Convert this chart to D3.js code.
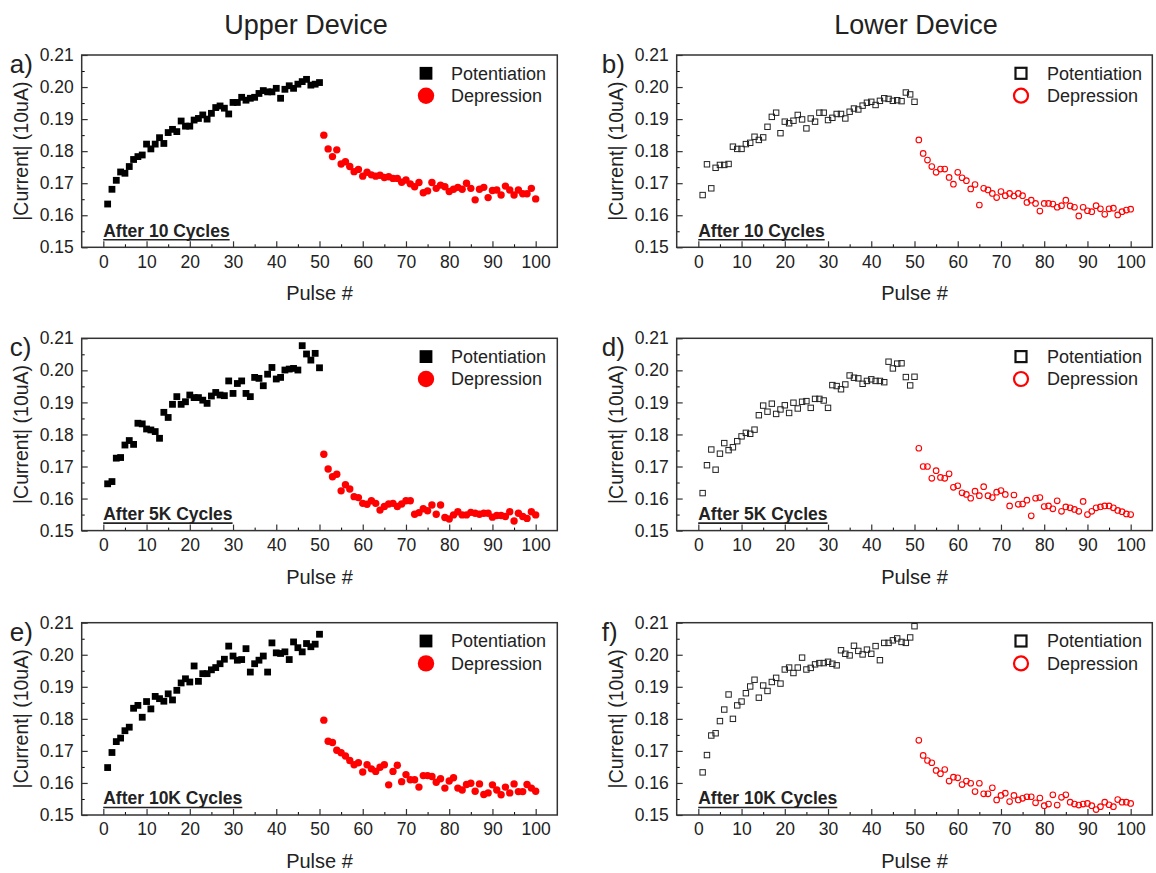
<!DOCTYPE html>
<html>
<head>
<meta charset="utf-8">
<script src="https://cdn.jsdelivr.net/npm/d3@7"></script>
<style>
  body { margin: 0; background: #fff; }
  text { font-family: "Liberation Sans", Arial, sans-serif; fill: #222; }
</style>
</head>
<body>
<script>
// pulse 1..50 = potentiation, 51..100 = depression
var aPot = [0.1635,0.1681,0.1709,0.1735,0.1731,0.1752,0.1774,0.1783,0.1788,0.1822,
            0.1807,0.1822,0.1842,0.1824,0.1858,0.1868,0.1861,0.1894,0.1878,0.1878,
            0.1897,0.1902,0.1913,0.1900,0.1918,0.1936,0.1941,0.1934,0.1916,0.1952,
            0.1952,0.1968,0.1959,0.1965,0.1968,0.1980,0.1989,0.1985,0.1985,0.1996,
            0.1965,0.1993,0.2004,0.1996,0.2009,0.2017,0.2024,0.2006,0.2009,0.2014];
var aDep = [0.1850,0.1807,0.1783,0.1804,0.1760,0.1767,0.1752,0.1736,0.1743,0.1722,
            0.1734,0.1726,0.1722,0.1725,0.1718,0.1720,0.1715,0.1715,0.1703,0.1710,
            0.1698,0.1689,0.1702,0.1670,0.1676,0.1702,0.1684,0.1694,0.1689,0.1674,
            0.1681,0.1687,0.1681,0.1700,0.1684,0.1648,0.1681,0.1687,0.1655,0.1677,
            0.1679,0.1663,0.1691,0.1679,0.1663,0.1679,0.1667,0.1667,0.1684,0.1651];

var bPot = [0.1663,0.1759,0.1684,0.1748,0.1757,0.1757,0.1760,0.1814,0.1807,0.1807,
            0.1822,0.1826,0.1845,0.1835,0.1843,0.1876,0.1907,0.1920,0.1856,0.1892,
            0.1887,0.1895,0.1913,0.1899,0.1871,0.1902,0.1892,0.1920,0.1920,0.1897,
            0.1904,0.1916,0.1916,0.1902,0.1923,0.1933,0.1930,0.1942,0.1951,0.1954,
            0.1944,0.1957,0.1965,0.1963,0.1957,0.1959,0.1956,0.1983,0.1977,0.1954];
var bDep = [0.1835,0.1793,0.1772,0.1752,0.1734,0.1744,0.1744,0.1718,0.1697,0.1734,
            0.1717,0.1708,0.1682,0.1696,0.1632,0.1684,0.1679,0.1668,0.1655,0.1674,
            0.1661,0.1668,0.1660,0.1668,0.1661,0.1640,0.1647,0.1637,0.1613,0.1637,
            0.1637,0.1635,0.1625,0.1630,0.1647,0.1629,0.1625,0.1598,0.1625,0.1614,
            0.1611,0.1630,0.1620,0.1603,0.1620,0.1622,0.1601,0.1611,0.1616,0.1619];

var cPot = [0.1646,0.1653,0.1726,0.1728,0.1767,0.1781,0.1769,0.1835,0.1833,0.1817,
            0.1814,0.1809,0.1788,0.1869,0.1853,0.1894,0.1918,0.1894,0.1902,0.1923,
            0.1915,0.1915,0.1907,0.1897,0.1920,0.1931,0.1923,0.1921,0.1967,0.1928,
            0.1959,0.1967,0.1928,0.1918,0.1978,0.1975,0.1952,0.1988,0.2009,0.1973,
            0.1978,0.2001,0.2004,0.2006,0.2001,0.2077,0.2051,0.2032,0.2053,0.2008];
var cDep = [0.1738,0.1692,0.1668,0.1676,0.1624,0.1643,0.1630,0.1606,0.1603,0.1585,
            0.1582,0.1593,0.1585,0.1564,0.1575,0.1583,0.1585,0.1575,0.1583,0.1593,
            0.1593,0.1551,0.1556,0.1568,0.1562,0.1580,0.1551,0.1580,0.1541,0.1536,
            0.1549,0.1559,0.1549,0.1549,0.1557,0.1554,0.1551,0.1554,0.1554,0.1542,
            0.1547,0.1547,0.1544,0.1559,0.1530,0.1554,0.1544,0.1538,0.1559,0.1549];

var dPot = [0.1617,0.1704,0.1753,0.1690,0.1740,0.1773,0.1751,0.1760,0.1779,0.1794,
            0.1805,0.1802,0.1815,0.1860,0.1890,0.1871,0.1896,0.1864,0.1878,0.1891,
            0.1867,0.1899,0.1881,0.1902,0.1904,0.1883,0.1911,0.1911,0.1906,0.1883,
            0.1954,0.1951,0.1941,0.1956,0.1984,0.1977,0.1975,0.1958,0.1967,0.1972,
            0.1967,0.1967,0.1963,0.2027,0.2006,0.2021,0.2022,0.1979,0.1953,0.1980];
var dDep = [0.1757,0.1700,0.1700,0.1663,0.1687,0.1666,0.1663,0.1677,0.1635,0.1640,
            0.1618,0.1613,0.1601,0.1623,0.1609,0.1637,0.1609,0.1603,0.1620,0.1625,
            0.1613,0.1577,0.1611,0.1582,0.1583,0.1595,0.1546,0.1601,0.1603,0.1575,
            0.1577,0.1568,0.1593,0.1560,0.1574,0.1571,0.1566,0.1560,0.1591,0.1550,
            0.1560,0.1571,0.1574,0.1577,0.1577,0.1571,0.1563,0.1559,0.1552,0.1550];

var ePot = [0.1648,0.1695,0.1729,0.1740,0.1763,0.1774,0.1833,0.1842,0.1805,0.1854,
            0.1831,0.1870,0.1863,0.1855,0.1878,0.1859,0.1889,0.1912,0.1925,0.1915,
            0.1965,0.1917,0.1941,0.1941,0.1953,0.1960,0.1972,0.1986,0.2027,0.1996,
            0.1983,0.1985,0.2019,0.1946,0.1972,0.1983,0.1996,0.1946,0.2037,0.2006,
            0.2004,0.2009,0.1985,0.2040,0.2022,0.2009,0.2035,0.2025,0.2033,0.2064];
var eDep = [0.1796,0.1730,0.1726,0.1702,0.1694,0.1684,0.1670,0.1657,0.1663,0.1634,
            0.1657,0.1644,0.1636,0.1649,0.1657,0.1594,0.1636,0.1655,0.1604,0.1626,
            0.1610,0.1610,0.1587,0.1623,0.1623,0.1620,0.1602,0.1613,0.1584,0.1606,
            0.1616,0.1584,0.1578,0.1595,0.1599,0.1574,0.1597,0.1564,0.1569,0.1594,
            0.1578,0.1563,0.1587,0.1569,0.1597,0.1573,0.1573,0.1595,0.1584,0.1574];

var fPot = [0.1633,0.1687,0.1748,0.1755,0.1793,0.1829,0.1876,0.1800,0.1842,0.1854,
            0.1880,0.1901,0.1922,0.1866,0.1904,0.1887,0.1915,0.1928,0.1910,0.1954,
            0.1960,0.1943,0.1960,0.1991,0.1954,0.1959,0.1970,0.1974,0.1974,0.1978,
            0.1972,0.1967,0.2014,0.2003,0.1998,0.2028,0.2012,0.2001,0.2016,0.2003,
            0.2027,0.1983,0.2037,0.2037,0.2045,0.2051,0.2040,0.2037,0.2054,0.2089];
var fDep = [0.1733,0.1686,0.1670,0.1663,0.1639,0.1629,0.1642,0.1606,0.1618,0.1616,
            0.1595,0.1606,0.1599,0.1573,0.1599,0.1566,0.1566,0.1585,0.1547,0.1561,
            0.1568,0.1542,0.1561,0.1547,0.1552,0.1557,0.1557,0.1538,0.1553,0.1529,
            0.1534,0.1563,0.1531,0.1555,0.1563,0.1540,0.1534,0.1531,0.1534,0.1536,
            0.1529,0.1517,0.1526,0.1540,0.1532,0.1526,0.1548,0.1540,0.1540,0.1536];

var xTicks = [0,10,20,30,40,50,60,70,80,90,100];
var yTicks = [0.15,0.16,0.17,0.18,0.19,0.20,0.21];
var seriesNames = ["Potentiation","Depression"];
var colTitles = ["Upper Device","Lower Device"];

var panels = [
  {lab:"a)", pot:aPot, dep:aDep, note:"After 10 Cycles",  col:0, row:0},
  {lab:"b)", pot:bPot, dep:bDep, note:"After 10 Cycles",  col:1, row:0},
  {lab:"c)", pot:cPot, dep:cDep, note:"After 5K Cycles",  col:0, row:1},
  {lab:"d)", pot:dPot, dep:dDep, note:"After 5K Cycles",  col:1, row:1},
  {lab:"e)", pot:ePot, dep:eDep, note:"After 10K Cycles", col:0, row:2},
  {lab:"f)", pot:fPot, dep:fDep, note:"After 10K Cycles", col:1, row:2}
];

var colLeft = [81.7, 676.7], rowTop = [55, 338.3, 622.7];
var pw = 475.6, ph = 192.3;
var red = "#ff0000";

var svg = d3.select("body").append("svg")
    .attr("width", 1156).attr("height", 873);

svg.selectAll("text.title").data(colTitles).enter().append("text")
    .attr("class","title")
    .attr("x", function(d,i){ return [306, 916][i]; })
    .attr("y", 34)
    .attr("text-anchor","middle")
    .style("font-size","27px")
    .text(function(d){ return d; });

var x = d3.scaleLinear().domain([-5,105]).range([0,pw]);
var y = d3.scaleLinear().domain([0.15,0.21]).range([ph,0]);

panels.forEach(function(p){
  var open = p.col == 1;
  var g = svg.append("g")
      .attr("transform","translate(" + colLeft[p.col] + "," + rowTop[p.row] + ")");

  // minor ticks
  g.append("g").attr("transform","translate(0," + ph + ")")
    .call(d3.axisBottom(x).tickValues(d3.range(5,100,10)).tickSize(-3).tickFormat(""))
    .call(function(s){ s.select(".domain").remove(); });
  g.append("g")
    .call(d3.axisLeft(y).tickValues([0.155,0.165,0.175,0.185,0.195,0.205]).tickSize(-3).tickFormat(""))
    .call(function(s){ s.select(".domain").remove(); });

  // major ticks + labels
  var xa = g.append("g").attr("transform","translate(0," + ph + ")")
    .call(d3.axisBottom(x).tickValues(xTicks).tickSize(-6).tickPadding(8));
  var ya = g.append("g")
    .call(d3.axisLeft(y).tickValues(yTicks).tickSize(-6).tickPadding(8).tickFormat(d3.format(".2f")));
  [xa, ya].forEach(function(a){
    a.select(".domain").remove();
    a.selectAll("text").style("font-size","17.5px").style("font-family","'Liberation Sans', Arial, sans-serif").attr("fill","#222");
    a.selectAll("line").attr("stroke","#333").attr("stroke-width",1.2);
  });

  g.append("rect").attr("width",pw).attr("height",ph)
    .attr("fill","none").attr("stroke","#333").attr("stroke-width",1.5);

  // points
  var pts = g.append("g");
  pts.selectAll("rect.pot").data(p.pot).enter().append("rect")
    .attr("class","pot")
    .attr("x", function(d,i){ return x(i+1) - (open ? 2.7 : 3.4); })
    .attr("y", function(d){ return y(d) - (open ? 2.7 : 3.4); })
    .attr("width", open ? 5.4 : 6.8).attr("height", open ? 5.4 : 6.8)
    .attr("fill", open ? "none" : "#000")
    .attr("stroke", open ? "#222" : "none").attr("stroke-width", 1);
  pts.selectAll("circle.dep").data(p.dep).enter().append("circle")
    .attr("class","dep")
    .attr("cx", function(d,i){ return x(i+51); })
    .attr("cy", function(d){ return y(d); })
    .attr("r", open ? 2.8 : 3.7)
    .attr("fill", open ? "none" : red)
    .attr("stroke", open ? red : "none").attr("stroke-width", 1.1);

  // legend
  var lg = g.append("g").attr("transform","translate(344.3,0)");
  if (open) {
    lg.append("rect").attr("x",-5.5).attr("y",18.3-5.5).attr("width",11).attr("height",11)
      .attr("fill","none").attr("stroke","#111").attr("stroke-width",2.2);
    lg.append("circle").attr("cx",0).attr("cy",40.7).attr("r",7)
      .attr("fill","none").attr("stroke",red).attr("stroke-width",2.2);
  } else {
    lg.append("rect").attr("x",-6.4).attr("y",18.3-6.4).attr("width",12.8).attr("height",12.8).attr("fill","#000");
    lg.append("circle").attr("cx",0).attr("cy",40.7).attr("r",8.2).attr("fill",red);
  }
  lg.selectAll("text").data(seriesNames).enter().append("text")
    .attr("x", open ? 26 : 25)
    .attr("y", function(d,i){ return [18.3, 40.7][i] + 6.3; })
    .style("font-size","18px")
    .text(function(d){ return d; });

  // cycle note
  var nt = g.append("text").attr("x",21.5).attr("y",ph - 10.5)
    .style("font-size","17.5px").style("font-weight","bold")
    .text(p.note);
  var bw = nt.node().getComputedTextLength();
  g.append("line").attr("x1",21.5).attr("x2",21.5 + bw)
    .attr("y1",ph - 7.5).attr("y2",ph - 7.5)
    .attr("stroke","#222").attr("stroke-width",1.6);

  // axis titles
  g.append("text").attr("x",pw/2).attr("y",ph + 53)
    .attr("text-anchor","middle").style("font-size","20px").text("Pulse #");
  g.append("text")
    .attr("transform","translate(" + (-54) + "," + (ph/2) + ") rotate(-90)")
    .attr("text-anchor","middle").style("font-size","19.5px").text("|Current| (10uA)");

  // panel letter
  g.append("text").attr("x", p.col == 0 ? -72 : -75).attr("y",18)
    .style("font-size","26px").text(p.lab);
});
</script>
</body>
</html>
